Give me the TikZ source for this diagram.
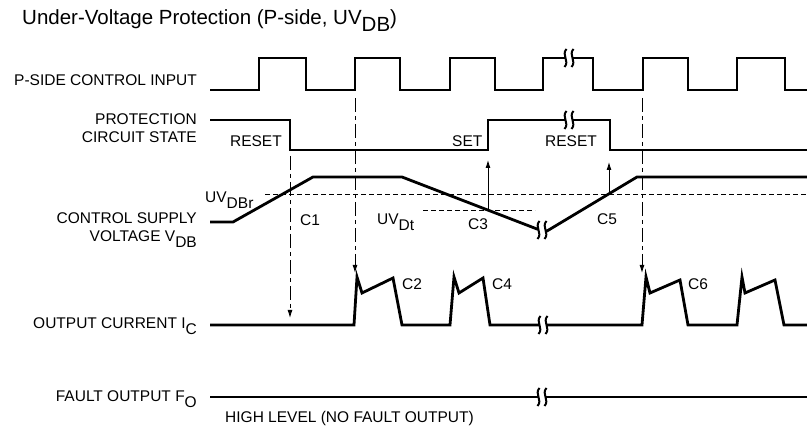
\documentclass[tikz,border=0pt]{standalone}
\usepackage{fontspec}
\setmainfont{Liberation Sans}
\usetikzlibrary{arrows.meta}
\newcommand{\lowtxt}[1]{\raisebox{-0.33em}{#1}}

\begin{document}
\begin{tikzpicture}[x=1pt, y=-1pt,
		sig/.style={line width=2.8pt},
		thr/.style={line width=0.9pt, dash pattern=on 5pt off 3pt},
		ddot/.style={line width=0.9pt, dash pattern=on 14pt off 4pt on 4pt off 4pt, -{Latex[length=8pt,width=5pt]}},
		trig/.style={line width=0.9pt, -{Latex[length=8pt,width=5pt]}},
		lbl/.style={font=\fontsize{15.5}{18}\selectfont, inner sep=0pt},
		brk/.pic={
			\fill[white] (-4,-7) rectangle (4,7);
			\draw[line width=2pt] (-2.5,-9) .. controls (-8,-3) and (1,3) .. (-4.5,9);
			\draw[line width=2pt] (4.5,-9) .. controls (-1,-3) and (8,3) .. (2.5,9);
		}]
			\useasboundingbox (0,0) rectangle (807,427);

			\node[lbl, font=\fontsize{20.5}{24}\selectfont, anchor=base west] (title) at (22,25) {Under-Voltage Protection (P-side, UV\lowtxt{DB})};

			\node[lbl, anchor=base east] (lblin) at (197,86) {P-SIDE CONTROL INPUT};
			\node[lbl, anchor=base east] (lblprot) at (197,125) {PROTECTION};
			\node[lbl, anchor=base east] (lblcirc) at (197,143) {CIRCUIT STATE};
			\node[lbl, anchor=base east] (lblsup) at (197,224) {CONTROL SUPPLY};
			\node[lbl, anchor=base east] (lblvolt) at (197,242) {VOLTAGE V\lowtxt{DB}};
			\node[lbl, anchor=base east] (lblcur) at (197,329) {OUTPUT CURRENT I\lowtxt{C}};
			\node[lbl, anchor=base east] (lblfault) at (197,402) {FAULT OUTPUT F\lowtxt{O}};
			\node[lbl, anchor=base west] (lblhigh) at (225,423) {HIGH LEVEL (NO FAULT OUTPUT)};

			\draw[sig] (210,90) -| (259,58) -| (306,90) -| (355,58) -| (400,90) -| (450,58) -| (495,90) -| (543,58) -| (593,90) -| (643,58) -| (688,90) -| (737,58) -| (785,90) -- (807,90);
			\draw[sig] (210,120) -| (290,150) -| (488,120) -| (610,150) -- (807,150);
			\draw[sig] (210,222) -- (233,222) -- (313,177) -- (402,177) -- (537,229) -- (547,231) -- (637,177) -- (807,177);
			\draw[sig] (210,325) -- (354,325) -- (357,277) -- (362,293) -- (393,278) -- (402,325) -- (450,325) -- (454,277) -- (459,293) -- (483,278) -- (490,325) -- (642,325) -- (646,277) -- (650,293) -- (680,280) -- (688,325) -- (737,325) -- (742,277) -- (745,293) -- (775,280) -- (784,325) -- (807,325);
			\draw[sig] (210,397) -- (807,397);

			\pic at (569,58) {brk};
			\pic at (569,120) {brk};
			\pic at (542,230) {brk};
			\pic at (543,325) {brk};
			\pic at (542,397) {brk};

			\draw[thr] (265,194) -- (807,194);
			\draw[thr] (423,210) -- (535,210);

			\node[lbl, anchor=base east] (reset1) at (282,147) {RESET};
			\node[lbl, anchor=base west] (set) at (452,147) {SET};
			\node[lbl, anchor=base west] (reset2) at (545,147) {RESET};
			\node[lbl, anchor=base west] (uvdbr) at (205,203) {UV\lowtxt{DBr}};
			\node[lbl, anchor=base west] (uvdt) at (377,225) {UV\lowtxt{Dt}};
			\node[lbl, anchor=base west] (c1) at (300,226) {C1};
			\node[lbl, anchor=base west] (c3) at (468,230) {C3};
			\node[lbl, anchor=base west] (c5) at (597,225) {C5};
			\node[lbl, anchor=base west] (c2) at (402,290) {C2};
			\node[lbl, anchor=base west] (c4) at (492,290) {C4};
			\node[lbl, anchor=base west] (c6) at (688,290) {C6};

			\coordinate (a1s) at (290,156);
			\coordinate (a1e) at (290,318);
			\coordinate (a2s) at (355,98);
			\coordinate (a2e) at (355,273);
			\coordinate (a3s) at (488,210);
			\coordinate (a3e) at (488,160);
			\coordinate (a4s) at (609,194);
			\coordinate (a4e) at (609,162);
			\coordinate (a5s) at (642,98);
			\coordinate (a5e) at (642,273);

			\draw[ddot] (a1s) -- (a1e);
			\draw[ddot] (a2s) -- (a2e);
			\draw[trig] (a3s) -- (a3e);
			\draw[trig] (a4s) -- (a4e);
			\draw[ddot] (a5s) -- (a5e);

		\end{tikzpicture}
\end{document}
